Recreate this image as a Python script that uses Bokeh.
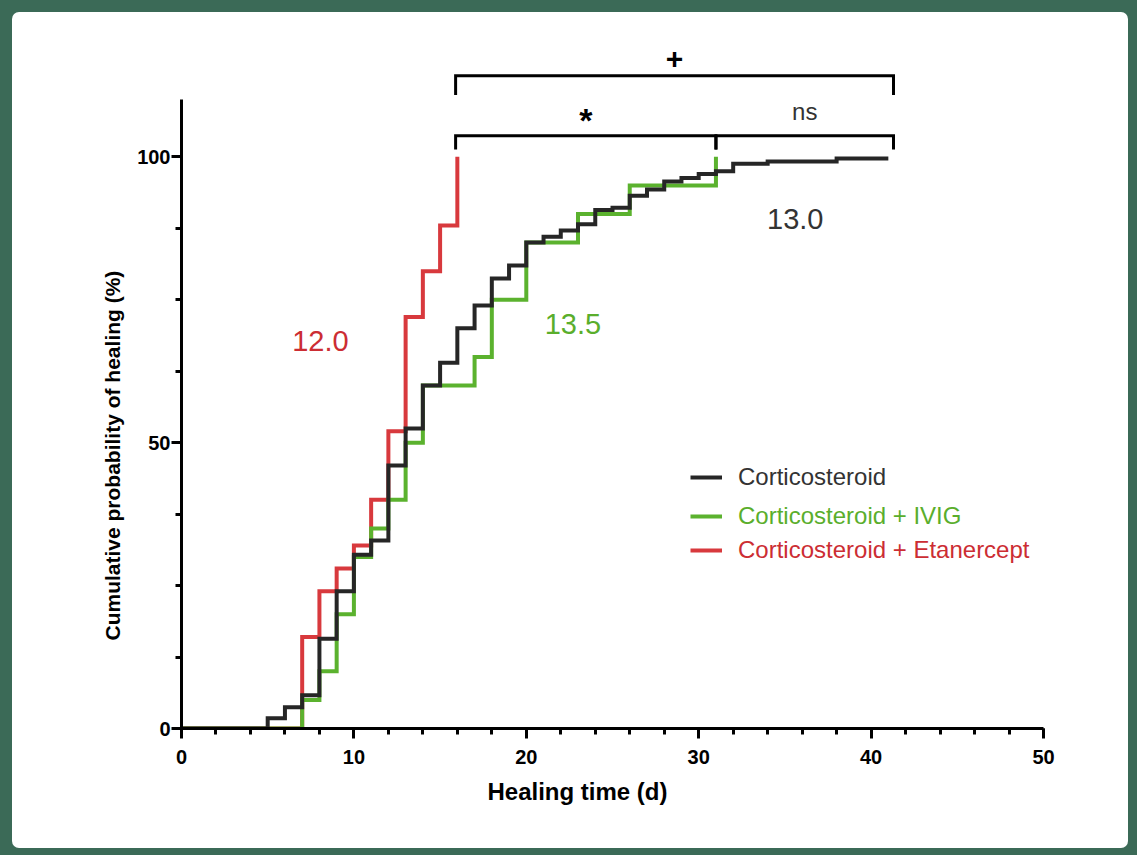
from bokeh.plotting import figure
from bokeh.models import Range1d, SingleIntervalTicker, Legend, LegendItem, Title
from bokeh.core.properties import value
from bokeh.embed import file_html
from bokeh.resources import INLINE

# ---------------- data ----------------
groups = ["Corticosteroid", "Corticosteroid + IVIG", "Corticosteroid + Etanercept"]

cs_time = [0, 5, 6, 7, 8, 9, 10, 11, 12, 13, 14, 15, 16, 17, 18, 19, 20, 21, 22, 23,
           24, 25, 26, 27, 28, 29, 30, 31, 32, 34, 38, 41]
cs_pct = [0, 1.8, 3.7, 5.8, 15.7, 24.0, 30.4, 32.9, 46.0, 52.5, 60.0, 64.0, 70.0, 74.0,
          78.7, 81.0, 85.0, 86.0, 87.1, 88.2, 90.7, 91.1, 93.2, 94.3, 95.7, 96.3, 97.0,
          97.5, 98.8, 99.2, 99.7, 99.7]

ivig_time = [0, 7, 8, 9, 10, 11, 12, 13, 14, 17, 18, 20, 23, 26, 31]
ivig_pct = [0, 5, 10, 20, 30, 35, 40, 50, 60, 65, 75, 85, 90, 95, 100]

eta_time = [0, 7, 8, 9, 10, 11, 12, 13, 14, 15, 16]
eta_pct = [0, 16, 24, 28, 32, 40, 52, 72, 80, 88, 100]

medians = ["13.0", "13.5", "12.0"]
comparison_labels = ["+", "*", "ns"]

x_title = "Healing time (d)"
y_title = "Cumulative probability of healing (%)"
x_ticks_interval = 10
y_ticks_interval = 50

# ---------------- styles ----------------
C_BLACK = "#262626"
C_GREEN = "#5bb22e"
C_RED = "#d8393d"
T_BLACK = "#333333"
T_GREEN = "#5aae2c"
T_RED = "#cc2d33"
FONT = "Liberation Sans"
FRAME_GREEN = "#3b6a57"

W, H = 1116, 836
p = figure(width=W, height=H, output_backend="svg", toolbar_location=None,
           x_range=Range1d(0, 50), y_range=Range1d(0, 120),
           min_border_left=169, min_border_right=85, min_border_top=30,
           min_border_bottom=120)
p.outline_line_color = None
p.xgrid.visible = False
p.ygrid.visible = False
p.background_fill_color = "white"
p.border_fill_color = None
p.styles = {"background-color": "white", "border-radius": "7px"}

# axes
p.xaxis.ticker = SingleIntervalTicker(interval=x_ticks_interval, num_minor_ticks=5)
p.yaxis.ticker = SingleIntervalTicker(interval=y_ticks_interval, num_minor_ticks=4)
p.yaxis.bounds = (0, 110)
for ax in (p.xaxis, p.yaxis):
    ax.axis_line_width = 3
    ax.axis_line_color = "black"
    ax.major_tick_line_width = 3
    ax.minor_tick_line_width = 3
    ax.major_tick_line_color = "black"
    ax.minor_tick_line_color = "black"
    ax.major_tick_in = 0
    ax.major_tick_out = 10
    ax.minor_tick_in = 0
    ax.minor_tick_out = 6
    ax.major_label_text_font = FONT
    ax.major_label_text_font_size = "20px"
    ax.major_label_text_font_style = "bold"
    ax.major_label_text_color = "black"
p.xaxis.major_label_standoff = 11
p.yaxis.major_label_standoff = 1

# axis titles (offset like in the reference)
xt = Title(text=x_title, align="left", offset=306, text_font=FONT,
           text_font_size="24px", text_font_style="bold", text_color="black", standoff=18)
p.add_layout(xt, "below")
yt = Title(text=y_title, align="left", offset=88, text_font=FONT,
           text_font_size="21px", text_font_style="bold", text_color="black", standoff=22)
p.add_layout(yt, "left")

# step curves
r_eta = p.step(eta_time, eta_pct, mode="after", line_color=C_RED, line_width=4,
               line_join="miter")
r_ivig = p.step(ivig_time, ivig_pct, mode="after", line_color=C_GREEN, line_width=4,
                line_join="miter")
r_cs = p.step(cs_time, cs_pct, mode="after", line_color=C_BLACK, line_width=4,
              line_join="miter")

# median labels
p.text(x=[35.6], y=[89.2], text=[medians[0]], text_align="center", text_baseline="middle",
       text_font=value(FONT), text_font_size="29px", text_color=T_BLACK)
p.text(x=[22.7], y=[70.8], text=[medians[1]], text_align="center", text_baseline="middle",
       text_font=value(FONT), text_font_size="29px", text_color=T_GREEN)
p.text(x=[8.06], y=[67.8], text=[medians[2]], text_align="center", text_baseline="middle",
       text_font=value(FONT), text_font_size="29px", text_color=T_RED)

# significance brackets, anchored at each group's last time
end_cs = cs_time[-1] + 0.3
end_ivig = ivig_time[-1]
end_eta = eta_time[-1] - 0.1

def bracket(x0, x1, ytop, ybot):
    p.line([x0, x0, x1, x1], [ybot, ytop, ytop, ybot], line_color="black",
           line_width=3, line_join="miter")

bracket(end_eta, end_cs, 114.2, 110.8)
bracket(end_eta, end_ivig, 103.7, 101.3)
bracket(end_ivig, end_cs, 103.7, 101.3)

p.text(x=[(end_eta + end_cs) / 2], y=[117.2], text=[comparison_labels[0]],
       text_align="center", text_baseline="middle", text_font=value(FONT),
       text_font_size="30px", text_font_style="bold", text_color="black")
p.text(x=[(end_eta + end_ivig) / 2], y=[106.4], text=[comparison_labels[1]],
       text_align="center", text_baseline="middle", text_font=value(FONT),
       text_font_size="34px", text_font_style="bold", text_color="black")
p.text(x=[(end_ivig + end_cs) / 2], y=[108.0], text=[comparison_labels[2]],
       text_align="center", text_baseline="middle", text_font=value(FONT),
       text_font_size="24px", text_color=T_BLACK)

# legends (one per entry, each with its own text colour)
def add_legend(label, rend, color, loc):
    lg = Legend(items=[LegendItem(label=label, renderers=[rend])], location=loc,
                glyph_width=32, glyph_height=24, label_height=24,
                label_standoff=16, padding=0, margin=0, spacing=0,
                border_line_color=None, background_fill_alpha=0,
                label_text_font=FONT, label_text_font_size="24px",
                label_text_color=color)
    p.add_layout(lg, "center")

add_legend(groups[0], r_cs, T_BLACK, (509, 237))
add_legend(groups[1], r_ivig, T_GREEN, (509, 198))
add_legend(groups[2], r_eta, T_RED, (509, 164))

html = file_html(p, INLINE, title="Cumulative probability of healing")
html = html.replace(
    "</head>",
    "<style>html,body{background:%s !important;}"
    "body{padding:12px 0 0 12px !important;}</style></head>" % FRAME_GREEN,
    1)
open("out.html", "w").write(html)
